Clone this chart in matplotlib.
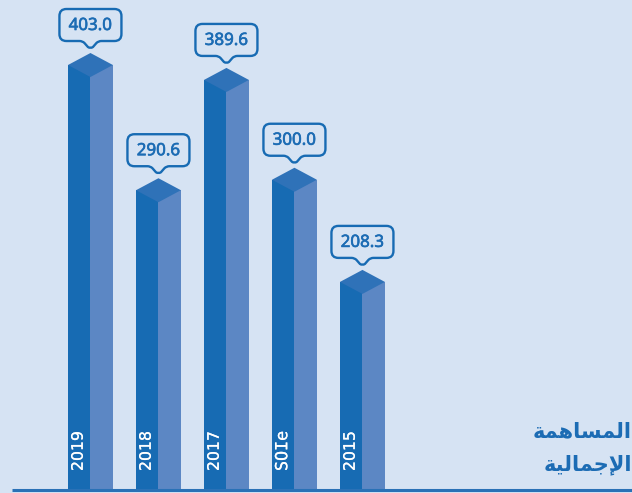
import matplotlib
matplotlib.use("Agg")
import matplotlib.pyplot as plt
import matplotlib.patheffects as pe
from matplotlib.path import Path
from matplotlib.patches import PathPatch
from matplotlib.transforms import Affine2D, ScaledTranslation

# chart values
years = ["2019", "2018", "2017", "SOIe", "2015"]
values = [403.0, 290.6, 389.6, 300.0, 208.3]

# arabic title, presentation forms in visual order (matplotlib has no shaping)
title_line1 = "\uFE94\uFEE4\uFEEB\uFE8E\uFEB4\uFEE4\uFEDF\uFE8D"
title_line2 = "\uFE94\uFEF4\uFEDF\uFE8E\uFEE4\uFE9F\uFEF9\uFE8D"

BG = "#D6E3F3"
FRONT = "#176BB3"
SIDE = "#5C87C4"
CAP = "#2F72B8"
TEXT = "#1C6CB4"

fig = plt.figure(figsize=(6.32, 4.93), dpi=100, facecolor=BG)
ax = fig.add_axes([0, 0, 1, 1])
ax.set_facecolor(BG)
ax.axis("off")

# 68 px per category, about 1.114 px per unit, the axis does not start at zero
base = 21.5
ax.set_xlim(-1, -1 + 632 / 68)
ax.set_ylim(base - 3 / 1.114, base + 490 / 1.114)

half = 0.33  # width of one face
depth = 12 / 1.114  # height of the cap slant


def bubble_path(w=62, h=32, r=7, tip=7, neck=11):
    # speech bubble in pixels, (0, 0) is the tip of the pointer
    b = tip
    t = tip + h
    l, rr = -w / 2, w / 2
    verts = [
        (-neck, b), (l + r, b), (l, b), (l, b + r), (l, t - r), (l, t), (l + r, t),
        (rr - r, t), (rr, t), (rr, t - r), (rr, b + r), (rr, b), (rr - r, b),
        (neck, b), (8, b), (6, 5), (2.5, 1), (0, -0.7), (-2.5, 1), (-6, 5), (-8, b), (-neck, b),
        (-neck, b),
    ]
    codes = [
        Path.MOVETO, Path.LINETO, Path.CURVE3, Path.CURVE3, Path.LINETO, Path.CURVE3, Path.CURVE3,
        Path.LINETO, Path.CURVE3, Path.CURVE3, Path.LINETO, Path.CURVE3, Path.CURVE3,
        Path.LINETO, Path.CURVE3, Path.CURVE3, Path.LINETO, Path.CURVE3, Path.CURVE3,
        Path.LINETO, Path.CURVE3, Path.CURVE3,
        Path.CLOSEPOLY,
    ]
    return Path(verts, codes)


for i, v in enumerate(values):
    # front and side faces
    ax.bar(i, v - base, bottom=base, width=half, align="edge", color=FRONT, lw=0, zorder=2)
    ax.bar(i + half, v - base, bottom=base, width=half, align="edge", color=SIDE, lw=0, zorder=2)
    # top of the block
    ax.fill([i, i + half, i + 2 * half, i + half],
            [v, v + depth, v, v - depth], color=CAP, lw=0, zorder=3)

    # value bubble sits 5 px above the cap
    trans = Affine2D().translate(0, 5) + ScaledTranslation(i + half, v + depth, ax.transData)
    ax.add_patch(PathPatch(bubble_path(), transform=trans, facecolor=BG,
                           edgecolor=FRONT, lw=1.7, zorder=4, clip_on=False))
    value_text = ax.annotate(f"{v:.1f}", (i + half, v + depth), xytext=(0, 5 + 7 + 15),
                             textcoords="offset pixels", ha="center", va="center", fontsize=12.2,
                             family="Noto Sans", color=TEXT, zorder=5)
    value_text.set_path_effects([pe.withStroke(linewidth=0.45, foreground=TEXT)])

    # year inside the front face, the fourth one is drawn in a typewriter look
    odd_label = years[i] == "SOIe"
    year_text = ax.annotate(years[i], (i + half / 2, base), xytext=(-1, 19), textcoords="offset pixels",
                            rotation=90, ha="center", va="bottom", fontsize=12 if odd_label else 11.3,
                            family="DejaVu Sans Mono" if odd_label else "DejaVu Sans",
                            color="white", zorder=5)
    year_text.set_path_effects([pe.withStroke(linewidth=0.15, foreground="white")])

# baseline
ax.plot([12 / 68 - 1, -1 + 632 / 68], [base, base], color="#2A71B6", lw=2.2,
        solid_capstyle="butt", zorder=6)

ax.text(632, 62, title_line1, transform=None, ha="right", va="center", fontsize=15,
        fontweight="bold", family="DejaVu Sans", color=TEXT)
ax.text(632, 28, title_line2, transform=None, ha="right", va="center", fontsize=15,
        fontweight="bold", family="DejaVu Sans", color=TEXT)

fig.savefig("out.png", dpi=100, facecolor=BG)
